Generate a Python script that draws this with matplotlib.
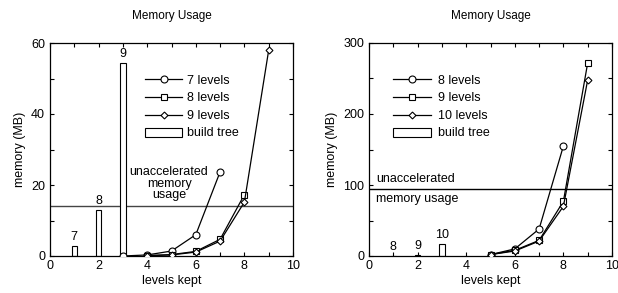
import matplotlib
matplotlib.use("Agg")
import matplotlib.pyplot as plt
from matplotlib.ticker import MultipleLocator

plt.rcParams['font.family'] = ['Liberation Sans', 'DejaVu Sans']
plt.rcParams['font.size'] = 8

# left panel data
l_x7 = [3, 4, 5, 6, 7]
l_y7 = [0.0, 0.3, 1.4, 6.0, 23.7]
l_x8 = [4, 5, 6, 7, 8]
l_y8 = [0.1, 0.4, 1.3, 4.7, 17.3]
l_x9 = [4, 5, 6, 7, 8, 9]
l_y9 = [0.1, 0.3, 1.1, 4.2, 15.2, 58.0]
l_bar_x = [1, 2, 3]
l_bar_y = [2.8, 13.0, 54.4]
l_bar_lab = ['7', '8', '9']
l_unacc = 14.2

# right panel data
r_x8 = [5, 6, 7, 8]
r_y8 = [2, 10, 38, 155]
r_x9 = [5, 6, 7, 8, 9]
r_y9 = [2, 8, 22, 77, 272]
r_x10 = [5, 6, 7, 8, 9]
r_y10 = [2, 7, 21, 70, 248]
r_bar_x = [1, 2, 3]
r_bar_y = [0.6, 2.0, 17.4]
r_bar_lab = ['8', '9', '10']
r_unacc = 95

fig = plt.figure(figsize=(6.18, 2.93), dpi=100)
ax1 = fig.add_axes([50/618, 1-256/293, 243/618, 213/293])
ax2 = fig.add_axes([369/618, 1-256/293, 243/618, 213/293])


def style(ax, ymax, ymaj, ymin):
    ax.set_xlim(0, 10)
    ax.set_ylim(0, ymax)
    ax.xaxis.set_major_locator(MultipleLocator(2))
    ax.xaxis.set_minor_locator(MultipleLocator(1))
    ax.yaxis.set_major_locator(MultipleLocator(ymaj))
    ax.yaxis.set_minor_locator(MultipleLocator(ymin))
    ax.tick_params(which='both', direction='in', top=True, right=True, length=3, width=0.8, labelsize=9)
    ax.tick_params(axis='x', pad=3)
    for s in ax.spines.values():
        s.set_linewidth(0.9)
    ax.set_xlabel('levels kept', fontsize=9, labelpad=2)
    ax.set_ylabel('memory (MB)', fontsize=9, labelpad=4)
    ax.set_title('Memory Usage', fontsize=8.5, pad=17)


mk = dict(color='black', lw=0.9, markerfacecolor='white', markeredgecolor='black', markeredgewidth=0.8)

# left
ax1.axhline(l_unacc, color='#444444', lw=1.0)
ax1.bar(l_bar_x, l_bar_y, width=0.22, color='white', edgecolor='black', lw=0.8, label='build tree', zorder=2)
for xx, yy, t in zip(l_bar_x, l_bar_y, l_bar_lab):
    ax1.text(xx, yy + 0.8, t, ha='center', va='bottom', fontsize=9)
ax1.plot(l_x7, l_y7, marker='o', ms=5, label='7 levels', zorder=3, **mk)
ax1.plot(l_x8, l_y8, marker='s', ms=4, label='8 levels', zorder=3, **mk)
ax1.plot(l_x9, l_y9, marker='D', ms=3.5, label='9 levels', zorder=3, **mk)
ax1.text(4.9, 20.3, 'unaccelerated\nmemory\nusage', ha='center', va='center', fontsize=9, linespacing=0.95)
style(ax1, 60, 20, 10)
ax1.legend(loc='upper left', bbox_to_anchor=(0.37, 0.875),
           frameon=False, handlelength=3.0, labelspacing=0.45, handletextpad=0.4, fontsize=9,
           borderaxespad=0)

# right
ax2.axhline(r_unacc, color='black', lw=1.0)
ax2.bar(r_bar_x, r_bar_y, width=0.22, color='white', edgecolor='black', lw=0.8, label='build tree', zorder=2)
for xx, yy, t in zip(r_bar_x, r_bar_y, r_bar_lab):
    ax2.text(xx, yy + 4, t, ha='center', va='bottom', fontsize=9)
ax2.plot(r_x8, r_y8, marker='o', ms=5, label='8 levels', zorder=3, **mk)
ax2.plot(r_x9, r_y9, marker='s', ms=4, label='9 levels', zorder=3, **mk)
ax2.plot(r_x10, r_y10, marker='D', ms=3.5, label='10 levels', zorder=3, **mk)
ax2.text(0.3, r_unacc + 5, 'unaccelerated', ha='left', va='bottom', fontsize=9)
ax2.text(0.3, r_unacc - 6, 'memory usage', ha='left', va='top', fontsize=9)
style(ax2, 300, 100, 50)
ax2.legend(loc='upper left', bbox_to_anchor=(0.08, 0.875),
           frameon=False, handlelength=3.0, labelspacing=0.45, handletextpad=0.6, fontsize=9,
           borderaxespad=0)

fig.savefig('out.png', dpi=100)
